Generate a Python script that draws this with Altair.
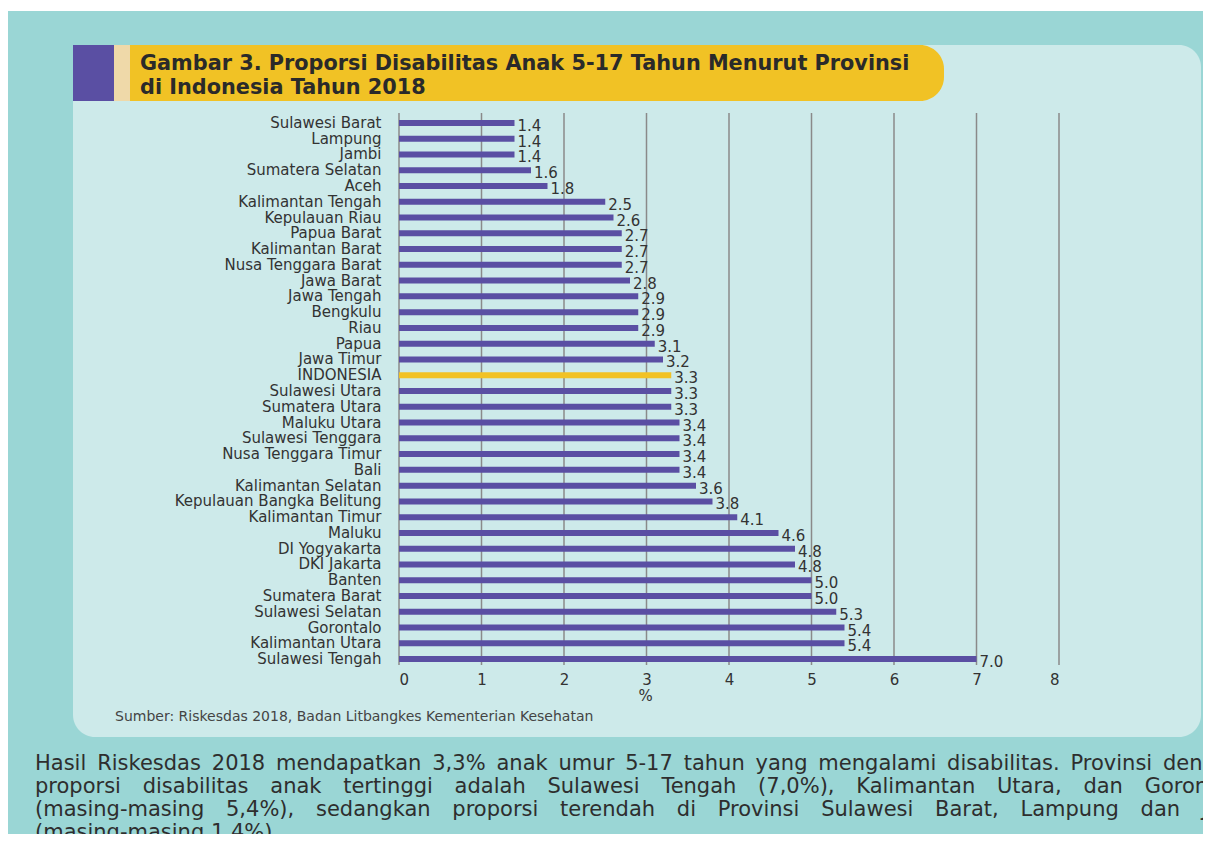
import altair as alt
import pandas as pd

provinces = ["Sulawesi Barat", "Lampung", "Jambi", "Sumatera Selatan", "Aceh",
             "Kalimantan Tengah", "Kepulauan Riau", "Papua Barat", "Kalimantan Barat",
             "Nusa Tenggara Barat", "Jawa Barat", "Jawa Tengah", "Bengkulu", "Riau",
             "Papua", "Jawa Timur", "INDONESIA", "Sulawesi Utara", "Sumatera Utara",
             "Maluku Utara", "Sulawesi Tenggara", "Nusa Tenggara Timur", "Bali",
             "Kalimantan Selatan", "Kepulauan Bangka Belitung", "Kalimantan Timur",
             "Maluku", "DI Yogyakarta", "DKI Jakarta", "Banten", "Sumatera Barat",
             "Sulawesi Selatan", "Gorontalo", "Kalimantan Utara", "Sulawesi Tengah"]
values = [1.4, 1.4, 1.4, 1.6, 1.8, 2.5, 2.6, 2.7, 2.7, 2.7, 2.8, 2.9, 2.9, 2.9,
          3.1, 3.2, 3.3, 3.3, 3.3, 3.4, 3.4, 3.4, 3.4, 3.6, 3.8, 4.1, 4.6, 4.8,
          4.8, 5.0, 5.0, 5.3, 5.4, 5.4, 7.0]
x_ticks = [0, 1, 2, 3, 4, 5, 6, 7, 8]
title_lines = ["Gambar 3. Proporsi Disabilitas Anak 5-17 Tahun Menurut Provinsi",
               "di Indonesia Tahun 2018"]
source_text = "Sumber: Riskesdas 2018, Badan Litbangkes Kementerian Kesehatan"
para_words = [
    "Hasil Riskesdas 2018 mendapatkan 3,3% anak umur 5-17 tahun yang mengalami disabilitas. Provinsi dengan",
    "proporsi disabilitas anak tertinggi adalah Sulawesi Tengah (7,0%), Kalimantan Utara, dan Gorontalo",
    "(masing-masing 5,4%), sedangkan proporsi terendah di Provinsi Sulawesi Barat, Lampung dan Jambi",
    "(masing-masing 1,4%).",
]
# extra word spacing per line, to imitate the justified paragraph
para_gaps = [" \u2009", " \u00a0\u2009\u2009", " \u00a0\u2009\u2009", " "]

FONT = "DejaVu Sans"
PURPLE = "#5a4fa3"
YELLOW = "#f1c225"
TEAL = "#9ad6d5"
PANEL = "#cdeaea"
TXT = "#333333"

df = pd.DataFrame({"prov": provinces, "val": values})
ticks_df = pd.DataFrame({"t": x_ticks})
one = pd.DataFrame({"k": [0]})

# page position of the canvas, and page coordinates of the plot origin
CX, CY = 8, 8
OX, OY = 399, 115
W, H = 660, 552
TOTW, TOTH = 1195, 826


def px(x):
    return x - OX


def py(y):
    return y - OY


def rect(x1, y1, x2, y2, color, **kw):
    return alt.Chart(one).mark_rect(color=color, **kw).encode(
        x=alt.value(px(x1)), x2=alt.value(px(x2)),
        y=alt.value(py(y1)), y2=alt.value(py(y2)))


def text(s, x, y, size, weight="normal", color=TXT):
    return alt.Chart(one).mark_text(
        text=s, align="left", baseline="alphabetic", fontSize=size,
        fontWeight=weight, color=color, font=FONT).encode(
        x=alt.value(px(x)), y=alt.value(py(y)))


layers = [
    rect(8, 11, 1215, 850, TEAL),
    rect(73, 45, 1201, 737, PANEL, cornerRadius=22),
    rect(73, 45, 114, 101, PURPLE),
    rect(114, 45, 130, 101, "#efd9a9"),
    rect(130, 45, 944, 101, YELLOW, cornerRadiusTopRight=24, cornerRadiusBottomRight=24),
    text(title_lines[0], 140, 70, 20.8, "bold", "#2a2a2a"),
    text(title_lines[1], 140, 94, 20.8, "bold", "#2a2a2a"),
    text(source_text, 115, 721, 14, "normal", "#444444"),
]
for i, (line, gap) in enumerate(zip(para_words, para_gaps)):
    layers.append(text(line.replace(" ", gap), 35, 770 + 23 * i, 21, "normal", "#2e2e2e"))

xscale = alt.Scale(domain=[0, 8], nice=False)
xaxis = alt.Axis(values=x_ticks, title="%", grid=False, domain=False, ticks=False,
                 labelFontSize=15, labelPadding=5, labelFont=FONT, labelColor=TXT,
                 titleFontSize=15, titleFontWeight="normal", titleFont=FONT,
                 titleColor=TXT, titlePadding=1, titleX=246, format="d", zindex=1)

grid = alt.Chart(ticks_df).mark_rule(color="#8a8a8a", strokeWidth=1.5).encode(
    x=alt.X("t:Q", scale=xscale, axis=xaxis),
    y=alt.value(-2), y2=alt.value(H - 2))

bars = alt.Chart(df).mark_bar(size=6).encode(
    y=alt.Y("prov:N", sort=None,
            scale=alt.Scale(paddingInner=0, paddingOuter=0),
            axis=alt.Axis(title=None, labelFontSize=15, labelColor=TXT, labelPadding=18,
                          ticks=False, domain=False, labelFont=FONT, labelLimit=400,
                          zindex=1)),
    x=alt.X("val:Q", scale=xscale, axis=xaxis),
    color=alt.condition(alt.datum.prov == "INDONESIA", alt.value(YELLOW), alt.value(PURPLE)),
)

labels = alt.Chart(df).mark_text(align="left", dx=3, dy=3, fontSize=15, font=FONT,
                                 color=TXT).encode(
    y=alt.Y("prov:N", sort=None),
    x=alt.X("val:Q", scale=xscale, axis=xaxis),
    text=alt.Text("val:Q", format=".1f"),
)

chart = alt.layer(*layers, grid, bars, labels).properties(
    width=W, height=H,
    autosize=alt.AutoSizeParams(type="none"),
    padding={"left": OX - CX, "top": OY - CY, "right": TOTW - (OX - CX) - W,
             "bottom": TOTH - (OY - CY) - H},
    background="#ffffff",
).configure_view(strokeWidth=0)

chart.save("out.html", embed_options={"renderer": "svg", "actions": False})
